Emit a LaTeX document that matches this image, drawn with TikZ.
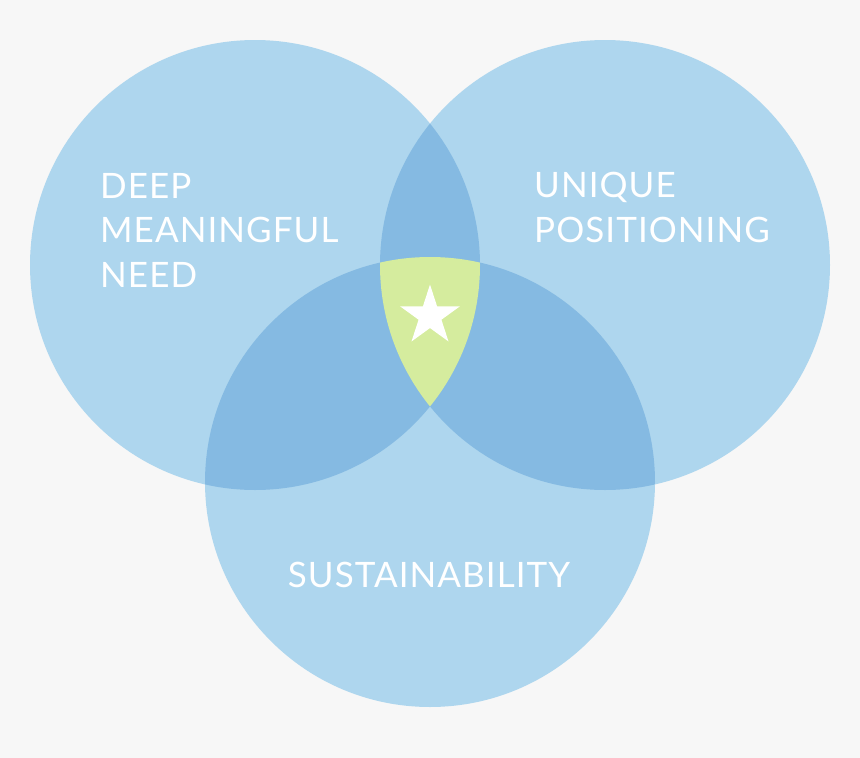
\documentclass[tikz,border=0pt]{standalone}
\usepackage{fontspec}
\setmainfont[LetterSpace=3]{Lato}
\usetikzlibrary{shapes.geometric}

\definecolor{bggrey}{HTML}{F7F7F7}
\definecolor{paleblue}{HTML}{AED6EE}
\definecolor{deepblue}{HTML}{85BAE2}
\definecolor{limegreen}{HTML}{D5EC9E}

\begin{document}
\begin{tikzpicture}[
    x=1pt, y=-1pt,
    caption/.style={text=white, font=\fontsize{35}{44.5}\selectfont, align=left, inner sep=0pt},
    starmark/.style={star, star points=5, star point ratio=2.62, minimum size=63pt, inner sep=0pt, fill=white}
]
% background and frame
\fill[bggrey] (0,0) rectangle (860,758);
\useasboundingbox (0,0) rectangle (860,758);

\coordinate (cneed) at (255,265);
\coordinate (cpos) at (605,265);
\coordinate (csus) at (430,482);

% the three circles
\fill[paleblue] (cneed) circle (225pt);
\fill[paleblue] (cpos) circle (225pt);
\fill[paleblue] (csus) circle (225pt);

% pairwise overlaps
\begin{scope}
  \clip (cneed) circle (225pt);
  \fill[deepblue] (cpos) circle (225pt);
  \fill[deepblue] (csus) circle (225pt);
\end{scope}
\begin{scope}
  \clip (cpos) circle (225pt);
  \fill[deepblue] (csus) circle (225pt);
\end{scope}

% centre where all three meet
\begin{scope}
  \clip (cneed) circle (225pt);
  \clip (cpos) circle (225pt);
  \fill[limegreen] (csus) circle (225pt);
\end{scope}

\node[starmark] (core) at (430,316) {};

% base = baseline of the last line
\node[caption, anchor=base west] (need) at (100,287) {DEEP\\MEANINGFUL\\NEED};
\node[caption, anchor=base west] (unique) at (534,242) {UNIQUE\\POSITIONING};
\node[caption, anchor=base] (sustain) at (429,587) {SUSTAINABILITY};
\end{tikzpicture}
\end{document}
